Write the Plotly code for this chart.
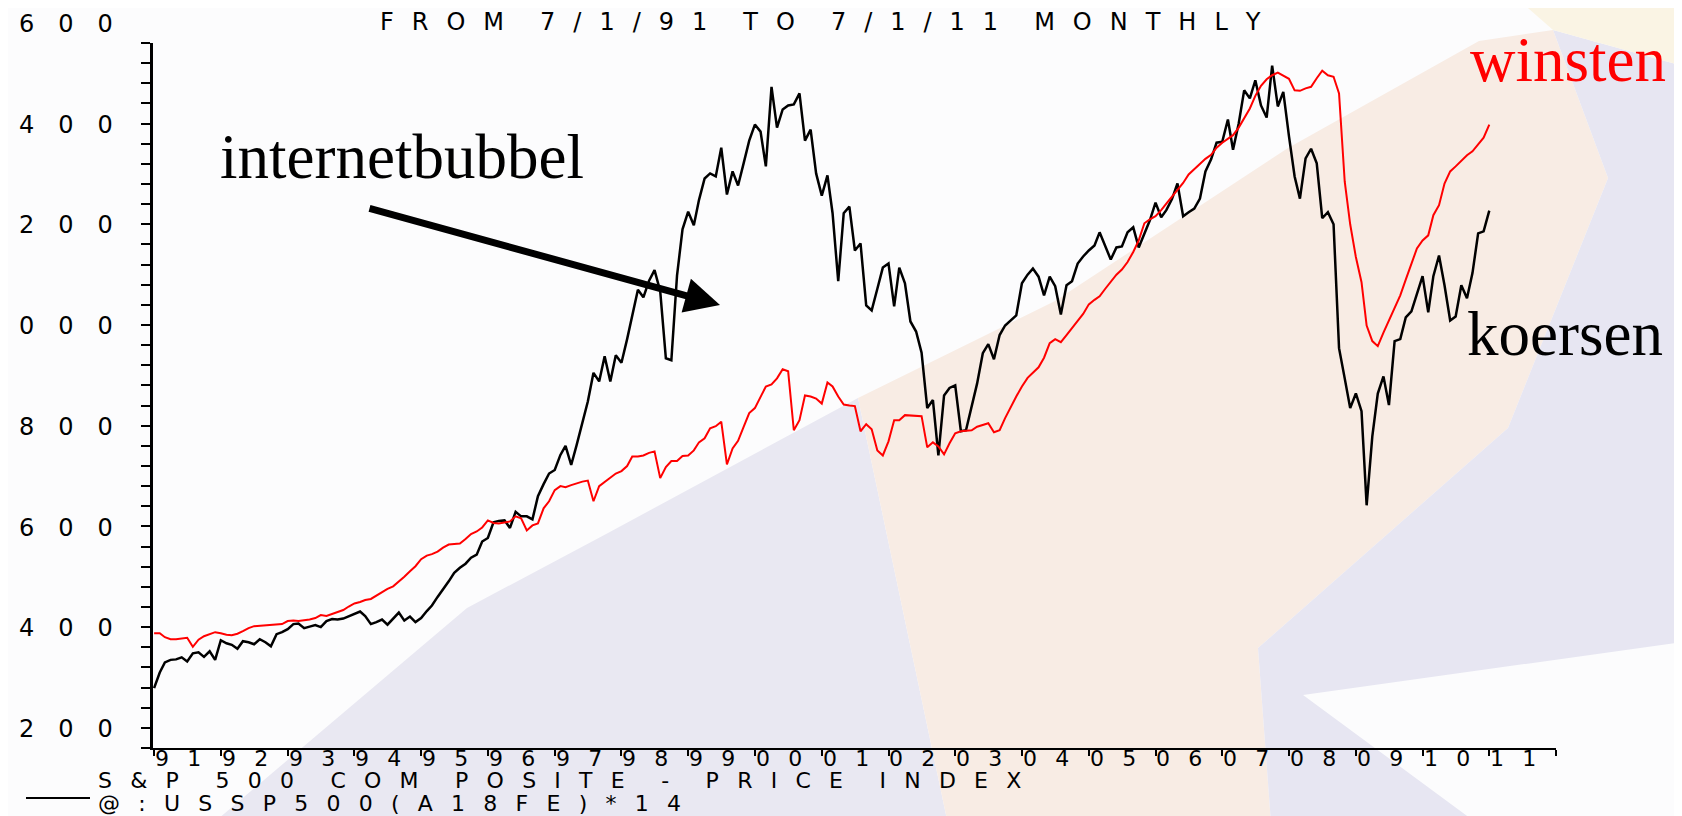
import pandas as pd
import plotly.graph_objects as go

# S&P 500 koersen (zwart), maandelijks vanaf jan 1991
koersen = [
    319, 350, 370, 375, 376, 380, 372, 388, 390, 381, 392, 375,
    414, 408, 405, 397, 412, 410, 406, 416, 410, 402, 426, 430,
    436, 446, 447, 438, 441, 444, 440, 452, 456, 455, 457, 462,
    466, 471, 462, 446, 450, 455, 445, 458, 469, 453, 461, 450,
    458, 472, 483, 500, 515, 531, 548, 558, 566, 578, 584, 610,
    617, 648, 651, 652, 637, 669, 660, 660, 654, 700, 724, 745,
    752, 782, 800, 762, 802, 845, 888, 945, 928, 978, 928, 980,
    965, 1012, 1060, 1110, 1095, 1128, 1149, 1107, 974, 970, 1138, 1230,
    1265, 1238, 1288, 1331, 1341, 1335, 1392, 1299, 1345, 1317, 1362, 1406,
    1438, 1424, 1355, 1513, 1432, 1468, 1476, 1478, 1500, 1406, 1428, 1341,
    1297, 1337, 1262, 1127, 1262, 1275, 1188, 1202, 1079, 1069, 1112, 1154,
    1162, 1077, 1154, 1123, 1047, 1027, 985, 875, 891, 781, 900, 915,
    920, 829, 831, 881, 924, 984, 1002, 972, 1020, 1039, 1050, 1059,
    1123, 1140, 1152, 1136, 1099, 1136, 1117, 1061, 1119, 1127, 1162, 1176,
    1188, 1198, 1224, 1197, 1170, 1194, 1196, 1224, 1234, 1194, 1222, 1248,
    1283, 1254, 1268, 1290, 1321, 1256, 1264, 1271, 1291, 1345, 1369, 1402,
    1404, 1448, 1388, 1440, 1506, 1490, 1526, 1476, 1452, 1555, 1474, 1503,
    1415, 1335, 1291, 1371, 1390, 1361, 1252, 1264, 1240, 994, 934, 875,
    904, 869, 682, 819, 904, 938, 881, 1008, 1012, 1055, 1067, 1102,
    1137, 1065, 1137, 1178, 1119, 1049, 1057, 1119, 1093, 1143, 1222, 1226,
    1267,
]

# winsten * 14 (rood)
winsten = [
    428, 428, 420, 416, 416, 417, 419, 401, 415, 422, 426, 430,
    428, 425, 424, 427, 432, 438, 442, 443, 444, 445, 446, 446,
    452, 453, 452, 453, 455, 458, 464, 462, 466, 470, 474, 481,
    487, 490, 494, 496, 503, 510, 516, 521, 530, 540, 551, 561,
    575, 582, 585, 590, 598, 604, 605, 606, 615, 625, 630, 638,
    652, 647, 646, 648, 650, 660, 656, 632, 642, 646, 676, 690,
    712, 720, 718, 722, 726, 729, 731, 690, 720, 728, 738, 745,
    750, 760, 779, 779, 781, 786, 789, 736, 758, 770, 770, 780,
    781, 791, 807, 815, 835, 839, 848, 763, 795, 810, 838, 865,
    875, 898, 918, 922, 934, 952, 948, 831, 851, 900, 898, 894,
    884, 926, 918, 898, 882, 880, 879, 829, 843, 833, 791, 781,
    809, 851, 851, 861, 860, 860, 859, 797, 807, 799, 783, 805,
    825, 829, 830, 831, 838, 842, 845, 827, 831, 855, 878, 898,
    918, 935, 945, 956, 975, 1004, 1012, 1006, 1020, 1035, 1048, 1062,
    1081, 1090, 1097, 1112, 1127, 1140, 1150, 1165, 1185, 1208, 1242, 1250,
    1256, 1268, 1281, 1295, 1308, 1322, 1339, 1350, 1361, 1370, 1378, 1392,
    1402, 1410, 1417, 1432, 1450, 1470, 1495, 1515, 1528, 1536, 1541, 1535,
    1529, 1506, 1505, 1510, 1513, 1530, 1545, 1536, 1533, 1500, 1325, 1240,
    1175, 1125, 1039, 1008, 998, 1025, 1049, 1075, 1099, 1130, 1160, 1192,
    1208, 1218, 1258, 1278, 1321, 1345, 1355, 1366, 1377, 1385, 1398, 1412,
    1438,
]

maanden = pd.date_range("1991-01-01", periods=len(koersen), freq="MS")

jaren = list(range(1991, 2012))
jaar_labels = [str(j)[2:] for j in jaren]
y_waarden = [1600, 1400, 1200, 1000, 800, 600, 400, 200]
y_labels = ["600", "400", "200", "000", "800", "600", "400", "200"]

# plotgebied in pixels
W, H = 1682, 816
L, R, T, B = 145, 1548, 35, 740


def px(x):
    return (x - L) / (R - L)


def py(y):
    return (B - y) / (B - T)


# brede letterafstand zoals in het origineel
GAP_TITEL = "\u2002\u2005"
GAP_TEKST = "\u2002\u2004"
GAP_AS = "\u2003"


def spaced(s, gap):
    return (gap * 2).join(gap.join(w) for w in s.split(" "))


FONT = "DejaVu Sans"
SERIF = "Liberation Serif, Times New Roman, serif"

fig = go.Figure()
fig.add_trace(go.Scatter(x=maanden, y=koersen, mode="lines",
                         line=dict(color="black", width=2.5)))
fig.add_trace(go.Scatter(x=maanden, y=winsten, mode="lines",
                         line=dict(color="#ff0000", width=2)))

# achtergrond van de dia
achtergrond = [
    ([(204, 816), (459, 600), (600, 525), (850, 390), (940, 816)], "#e9e8f2"),
    ([(850, 390), (1047, 293), (1280, 140), (1471, 33), (1545, 22), (1600, 170),
      (1500, 420), (1250, 640), (1263, 816), (940, 816)], "#f8ece4"),
    ([(1545, 22), (1682, 60), (1682, 633), (1295, 687), (1470, 816),
      (1263, 816), (1250, 640), (1500, 420), (1600, 170)], "#e7e6f2"),
    ([(1520, 0), (1682, 0), (1682, 60), (1545, 22)], "#faf4e4"),
]
shapes = []
for punten, kleur in achtergrond:
    pad = "M " + " L ".join(f"{px(x):.4f},{py(y):.4f}" for x, y in punten) + " Z"
    shapes.append(dict(type="path", xref="paper", yref="paper", path=pad,
                       fillcolor=kleur, line=dict(width=0), layer="below"))

# legenda-lijntjes
shapes.append(dict(type="line", xref="paper", yref="paper", x0=px(18), x1=px(82),
                   y0=py(790), y1=py(790), line=dict(color="black", width=2)))
shapes.append(dict(type="line", xref="paper", yref="paper", x0=px(18), x1=px(82),
                   y0=py(813), y1=py(813), line=dict(color="#ff0000", width=2)))

ann = []
ann.append(dict(text=spaced("FROM 7/1/91 TO 7/1/11 MONTHLY", GAP_TITEL),
                xref="paper", yref="paper",
                x=px(812), y=py(14), xanchor="center", yanchor="middle", showarrow=False,
                font=dict(family=FONT, size=24, color="black")))
for v, t in zip(y_waarden, y_labels):
    ann.append(dict(text=GAP_AS.join(t), xref="paper", yref="y", x=px(107), y=v, yshift=19,
                    xanchor="right", yanchor="middle", showarrow=False,
                    font=dict(family=FONT, size=24, color="black")))
for j, t in zip(jaren, jaar_labels):
    ann.append(dict(text=GAP_TEKST.join(t), xref="x", yref="paper", x=f"{j}-05-12",
                    y=py(751), xanchor="center", yanchor="middle", showarrow=False,
                    font=dict(family=FONT, size=22, color="black")))
ann.append(dict(text=spaced("S&P 500 COM POSITE - PRICE INDEX", GAP_TEKST),
                xref="paper", yref="paper",
                x=px(88), y=py(772), xanchor="left", yanchor="middle", showarrow=False,
                font=dict(family=FONT, size=22, color="black")))
ann.append(dict(text=GAP_TEKST.join("@:USSP500(A18FE)*14"), xref="paper", yref="paper",
                x=px(88), y=py(795), xanchor="left", yanchor="middle", showarrow=False,
                font=dict(family=FONT, size=22, color="black")))

ann.append(dict(text="internetbubbel", xref="paper", yref="paper", x=px(210), y=py(149),
                xanchor="left", yanchor="middle", showarrow=False,
                font=dict(family=SERIF, size=63, color="black")))
ann.append(dict(text="winsten", xref="paper", yref="paper", x=px(1460), y=py(52),
                xanchor="left", yanchor="middle", showarrow=False,
                font=dict(family=SERIF, size=63, color="#ff0000")))
ann.append(dict(text="koersen", xref="paper", yref="paper", x=px(1457), y=py(326),
                xanchor="left", yanchor="middle", showarrow=False,
                font=dict(family=SERIF, size=63, color="black")))
ann.append(dict(text="", xref="paper", yref="paper", x=px(712), y=py(297),
                ax=-352, ay=-97, showarrow=True, arrowhead=2, arrowsize=1,
                arrowwidth=7, arrowcolor="black"))

fig.update_layout(
    width=W, height=H,
    margin=dict(l=L, r=W - R, t=T, b=H - B),
    paper_bgcolor="#fcfcfd",
    plot_bgcolor="rgba(0,0,0,0)",
    showlegend=False,
    shapes=shapes,
    annotations=ann,
    xaxis=dict(type="date", range=["1990-12-26", "2012-01-01"],
               showgrid=False, zeroline=False, showline=True,
               linecolor="black", linewidth=1.5,
               ticks="outside", ticklen=6, tickwidth=1.5, tickcolor="black",
               tickvals=[f"{j}-01-01" for j in range(1991, 2013)],
               showticklabels=False),
    yaxis=dict(range=[200, 1600], showgrid=False, zeroline=False, showline=True,
               linecolor="black", linewidth=3,
               ticks="outside", ticklen=9, tickwidth=2, tickcolor="black",
               tick0=200, dtick=40, showticklabels=False),
)

fig.write_html("out.html")
